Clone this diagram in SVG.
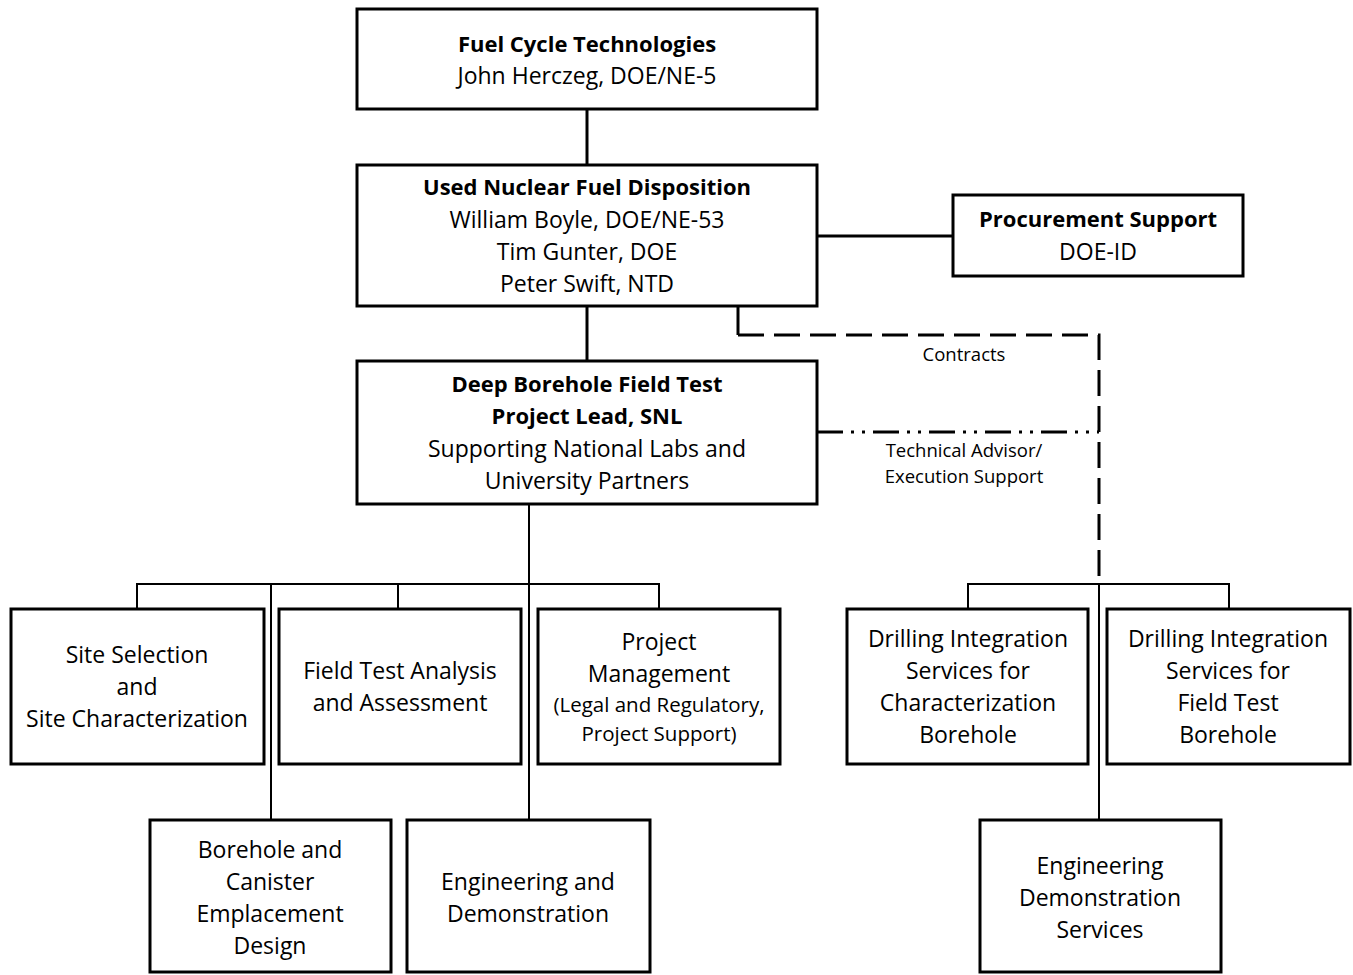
<svg xmlns="http://www.w3.org/2000/svg" width="1353" height="975" viewBox="0 0 1353 975">
<style>
.box{fill:#fff;stroke:#000;stroke-width:3}
.t{font-family:"Open Sans","Liberation Sans",sans-serif;font-size:23px;fill:#000;text-anchor:middle}
.b{font-weight:bold;font-size:22px}
.s{font-size:20.5px}
.l{font-family:"Open Sans","Liberation Sans",sans-serif;font-size:18.5px;fill:#000;text-anchor:middle}
.c{stroke:#000;stroke-width:2;fill:none}
.cb{stroke:#000;stroke-width:3;fill:none}
</style>
<rect width="1353" height="975" fill="#fff"/>
<g id="connectors">
<line class="cb" x1="587" y1="109" x2="587" y2="165"/>
<line class="cb" x1="587" y1="306" x2="587" y2="361"/>
<line class="cb" x1="817" y1="236" x2="953" y2="236"/>
<polyline class="cb" points="738,306 738,335"/>
<polyline class="cb" points="738,335 1099,335 1099,578" stroke-dasharray="26,10"/>
<line class="cb" x1="817" y1="432" x2="1099" y2="432" stroke-dasharray="26,8,3,8,3,8"/>
<line class="c" x1="529" y1="504" x2="529" y2="820"/>
<polyline class="c" points="137,609 137,584 659,584 659,609"/>
<line class="c" x1="398" y1="584" x2="398" y2="609"/>
<line class="c" x1="271" y1="584" x2="271" y2="820"/>
<polyline class="c" points="968,609 968,584 1229,584 1229,609"/>
<line class="c" x1="1099" y1="584" x2="1099" y2="820"/>
<text class="l" x="964" y="361">Contracts</text>
<text class="l" x="964" y="457">Technical Advisor/</text>
<text class="l" x="964" y="483">Execution Support</text>
</g>
<g id="fct">
<rect class="box" x="357" y="9" width="460" height="100"/>
<text class="t b" x="587" y="52">Fuel Cycle Technologies</text>
<text class="t" x="587" y="84">John Herczeg, DOE/NE-5</text>
</g>
<g id="unfd">
<rect class="box" x="357" y="165" width="460" height="141"/>
<text class="t b" x="587" y="195">Used Nuclear Fuel Disposition</text>
<text class="t" x="587" y="228">William Boyle, DOE/NE-53</text>
<text class="t" x="587" y="260">Tim Gunter, DOE</text>
<text class="t" x="587" y="292">Peter Swift, NTD</text>
</g>
<g id="procurement">
<rect class="box" x="953" y="195" width="290" height="81"/>
<text class="t b" x="1098" y="227">Procurement Support</text>
<text class="t" x="1098" y="260">DOE-ID</text>
</g>
<g id="dbft">
<rect class="box" x="357" y="361" width="460" height="143"/>
<text class="t b" x="587" y="392">Deep Borehole Field Test</text>
<text class="t b" x="587" y="424">Project Lead, SNL</text>
<text class="t" x="587" y="457">Supporting National Labs and</text>
<text class="t" x="587" y="489">University Partners</text>
</g>
<g id="site">
<rect class="box" x="11" y="609" width="253" height="155"/>
<text class="t" x="137" y="663">Site Selection</text>
<text class="t" x="137" y="695">and</text>
<text class="t" x="137" y="727">Site Characterization</text>
</g>
<g id="fta">
<rect class="box" x="279" y="609" width="242" height="155"/>
<text class="t" x="400" y="679">Field Test Analysis</text>
<text class="t" x="400" y="711">and Assessment</text>
</g>
<g id="pm">
<rect class="box" x="538" y="609" width="242" height="155"/>
<text class="t" x="659" y="650">Project</text>
<text class="t" x="659" y="682">Management</text>
<text class="t s" x="659" y="712">(Legal and Regulatory,</text>
<text class="t s" x="659" y="741">Project Support)</text>
</g>
<g id="bced">
<rect class="box" x="150" y="820" width="241" height="152"/>
<text class="t" x="270" y="858">Borehole and</text>
<text class="t" x="270" y="890">Canister</text>
<text class="t" x="270" y="922">Emplacement</text>
<text class="t" x="270" y="954">Design</text>
</g>
<g id="ed">
<rect class="box" x="407" y="820" width="243" height="152"/>
<text class="t" x="528" y="890">Engineering and</text>
<text class="t" x="528" y="922">Demonstration</text>
</g>
<g id="disc">
<rect class="box" x="847" y="609" width="241" height="155"/>
<text class="t" x="968" y="647">Drilling Integration</text>
<text class="t" x="968" y="679">Services for</text>
<text class="t" x="968" y="711">Characterization</text>
<text class="t" x="968" y="743">Borehole</text>
</g>
<g id="disf">
<rect class="box" x="1107" y="609" width="243" height="155"/>
<text class="t" x="1228" y="647">Drilling Integration</text>
<text class="t" x="1228" y="679">Services for</text>
<text class="t" x="1228" y="711">Field Test</text>
<text class="t" x="1228" y="743">Borehole</text>
</g>
<g id="eds">
<rect class="box" x="980" y="820" width="241" height="152"/>
<text class="t" x="1100" y="874">Engineering</text>
<text class="t" x="1100" y="906">Demonstration</text>
<text class="t" x="1100" y="938">Services</text>
</g>
</svg>
